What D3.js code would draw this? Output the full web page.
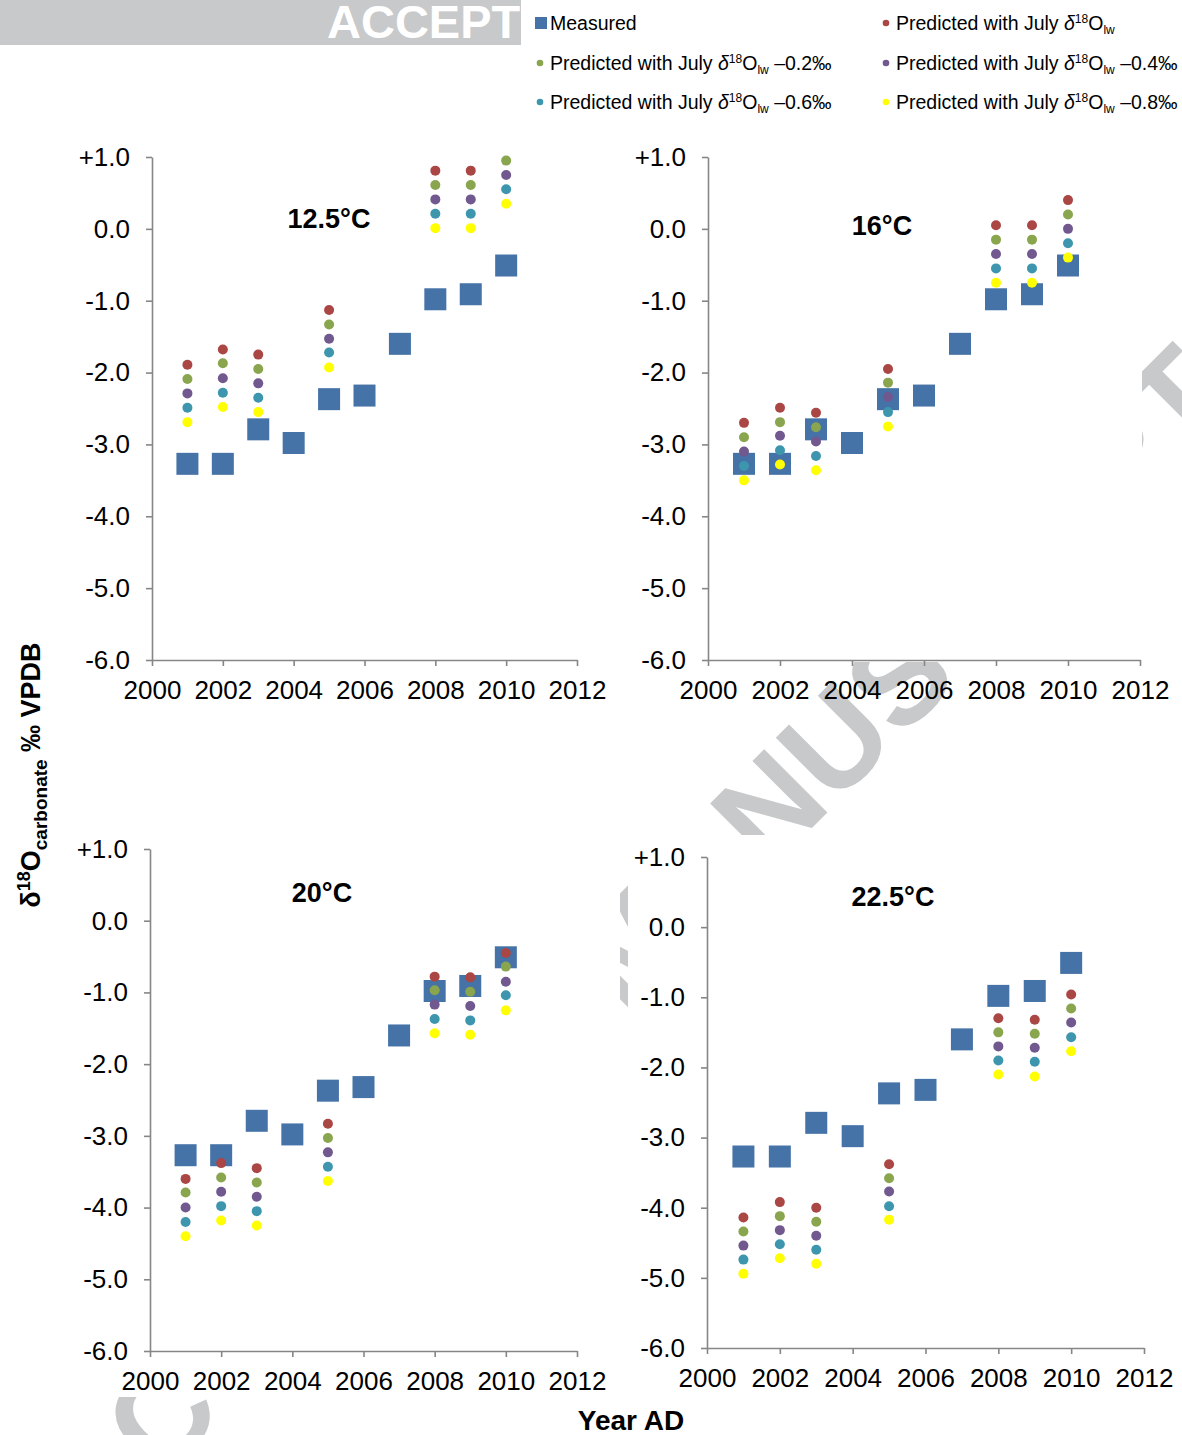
<!DOCTYPE html>
<html>
<head>
<meta charset="utf-8">
<script src="https://cdn.jsdelivr.net/npm/d3@7"></script>
<style>
  body { margin: 0; background: #fff; }
  svg { display: block; }
  text { font-family: "Liberation Sans", Arial, sans-serif; }
</style>
</head>
<body>
<svg id="chart" width="1182" height="1435"></svg>
<script>
// ---- data ----
const measuredYears = [2001, 2002, 2003, 2004, 2005, 2006, 2007, 2008, 2009, 2010];
const measured = [-3.27, -3.27, -2.79, -2.98, -2.37, -2.32, -1.60, -0.98, -0.91, -0.51];

const predYears = [2001, 2002, 2003, 2005, 2008, 2009, 2010];

// 12.5 °C
const t125_lw   = [-1.89, -1.68, -1.75, -1.13, 0.81, 0.81, null];
const t125_m02  = [-2.09, -1.87, -1.95, -1.33, 0.61, 0.61, 0.95];
const t125_m04  = [-2.29, -2.08, -2.15, -1.53, 0.41, 0.41, 0.75];
const t125_m06  = [-2.49, -2.28, -2.35, -1.72, 0.21, 0.21, 0.55];
const t125_m08  = [-2.69, -2.48, -2.55, -1.93, 0.01, 0.01, 0.35];
// 16 °C
const t16_lw    = [-2.70, -2.49, -2.56, -1.95, 0.05, 0.05, 0.40];
const t16_m02   = [-2.90, -2.69, -2.76, -2.14, -0.15, -0.15, 0.20];
const t16_m04   = [-3.10, -2.88, -2.96, -2.34, -0.35, -0.35, 0.00];
const t16_m06   = [-3.30, -3.08, -3.16, -2.55, -0.55, -0.55, -0.20];
const t16_m08   = [-3.50, -3.28, -3.36, -2.75, -0.75, -0.75, -0.40];
// 20 °C
const t20_lw    = [-3.60, -3.38, -3.45, -2.83, -0.78, -0.79, -0.45];
const t20_m02   = [-3.79, -3.58, -3.65, -3.03, -0.97, -0.99, -0.64];
const t20_m04   = [-4.00, -3.78, -3.85, -3.23, -1.17, -1.19, -0.85];
const t20_m06   = [-4.20, -3.98, -4.05, -3.43, -1.37, -1.39, -1.04];
const t20_m08   = [-4.40, -4.18, -4.25, -3.63, -1.57, -1.59, -1.25];
// 22.5 °C
const t225_lw   = [-4.14, -3.92, -4.00, -3.38, -1.30, -1.32, -0.96];
const t225_m02  = [-4.34, -4.12, -4.20, -3.58, -1.50, -1.52, -1.16];
const t225_m04  = [-4.54, -4.32, -4.40, -3.77, -1.70, -1.72, -1.36];
const t225_m06  = [-4.74, -4.52, -4.60, -3.98, -1.90, -1.92, -1.57];
const t225_m08  = [-4.94, -4.72, -4.80, -4.17, -2.10, -2.13, -1.77];

const panelTitles = ["12.5°C", "16°C", "20°C", "22.5°C"];
const panelSeries = [
  [t125_lw, t125_m02, t125_m04, t125_m06, t125_m08],
  [t16_lw, t16_m02, t16_m04, t16_m06, t16_m08],
  [t20_lw, t20_m02, t20_m04, t20_m06, t20_m08],
  [t225_lw, t225_m02, t225_m04, t225_m06, t225_m08]
];

const offsetLabels = ["", " \u20130.2\u2030", " \u20130.4\u2030", " \u20130.6\u2030", " \u20130.8\u2030"];
const xTicks = [2000, 2002, 2004, 2006, 2008, 2010, 2012];
const yTicks = [1, 0, -1, -2, -3, -4, -5, -6];

// ---- styles / layout ----
const measuredColor = "#4572A7";
const seriesColors = ["#AA4643", "#89A54E", "#71588F", "#3D96AE", "#FFFF00"];
const axisColor = "#868686";
const watermarkColor = "#c8c9cb";

const panelBoxes = [
  { x0: 152, x1: 577,  y0: 157, y1: 660,  tx: 329, ty: 228 },
  { x0: 708, x1: 1140, y0: 157, y1: 660,  tx: 882, ty: 235 },
  { x0: 150, x1: 577,  y0: 849, y1: 1351, tx: 322, ty: 902 },
  { x0: 707, x1: 1144, y0: 857, y1: 1348, tx: 893, ty: 906 }
];

const svg = d3.select("#chart");
const defs = svg.append("defs");

// ---- watermark (visible only in the gaps between the panels) ----
const wmClip = defs.append("clipPath").attr("id", "wm-clip");
[[1142, 120, 40, 715], [627, 662, 555, 173], [620, 835, 8, 600], [0, 1397, 625, 38]]
  .forEach(([x, y, w, h]) => wmClip.append("rect").attr("x", x).attr("y", y).attr("width", w).attr("height", h));

svg.append("g").attr("clip-path", "url(#wm-clip)")
  .append("text")
  .attr("transform", "translate(665,975) rotate(-45)")
  .attr("text-anchor", "middle")
  .attr("fill", watermarkColor)
  .style("font-weight", "bold")
  .style("font-size", "130px")
  .text("ACCEPTED MANUSCRIPT");

// banner at the top-left
svg.append("rect").attr("x", 0).attr("y", 0).attr("width", 521).attr("height", 45).attr("fill", watermarkColor);
svg.append("text").attr("x", 327).attr("y", 38).attr("fill", "#fff")
  .style("font-weight", "bold").style("font-size", "47px")
  .text("ACCEPT");

// ---- panels ----
const yFmt = v => (v > 0 ? "+" : "") + v.toFixed(1);

panelBoxes.forEach((box, i) => {
  const x = d3.scaleLinear().domain([2000, 2012]).range([box.x0, box.x1]);
  const y = d3.scaleLinear().domain([-6, 1]).range([box.y1, box.y0]);
  const g = svg.append("g");

  const yAxis = g.append("g").attr("transform", `translate(${box.x0},0)`)
    .call(d3.axisLeft(y).tickValues(yTicks).tickSize(6).tickSizeOuter(0).tickPadding(16).tickFormat(yFmt));
  const xAxis = g.append("g").attr("transform", `translate(0,${box.y1})`)
    .call(d3.axisBottom(x).tickValues(xTicks).tickSize(6).tickSizeOuter(0).tickPadding(15).tickFormat(d3.format("d")));

  [yAxis, xAxis].forEach(a => {
    a.attr("font-family", null).attr("font-size", null);
    a.selectAll("path.domain").attr("stroke", axisColor).attr("stroke-width", 1.6);
    a.selectAll(".tick line").attr("stroke", axisColor).attr("stroke-width", 1.6);
    a.selectAll(".tick text").attr("fill", "#000").style("font-size", "26px");
  });

  // measured squares
  const sq = 22;
  g.append("g").selectAll("rect")
    .data(measuredYears.map((yr, k) => ({ yr, v: measured[k] })))
    .join("rect")
    .attr("x", d => x(d.yr) - sq / 2)
    .attr("y", d => y(d.v) - sq / 2)
    .attr("width", sq).attr("height", sq)
    .attr("fill", measuredColor);

  // predicted dots
  panelSeries[i].forEach((vals, s) => {
    g.append("g").selectAll("circle")
      .data(predYears.map((yr, k) => ({ yr, v: vals[k] })).filter(d => d.v !== null))
      .join("circle")
      .attr("cx", d => x(d.yr))
      .attr("cy", d => y(d.v))
      .attr("r", 5)
      .attr("fill", seriesColors[s]);
  });

  g.append("text")
    .attr("x", box.tx).attr("y", box.ty)
    .attr("text-anchor", "middle")
    .style("font-weight", "bold").style("font-size", "27px")
    .text(panelTitles[i]);
});

// ---- axis titles ----
const yTitle = svg.append("text")
  .attr("transform", "translate(40,775) rotate(-90)")
  .attr("text-anchor", "middle")
  .style("font-weight", "bold").style("font-size", "27px");
yTitle.append("tspan").text("\u03B4");
yTitle.append("tspan").attr("dy", -10).style("font-size", "18px").text("18");
yTitle.append("tspan").attr("dy", 10).text("O");
yTitle.append("tspan").attr("dy", 7).style("font-size", "19px").text("carbonate");
yTitle.append("tspan").attr("dy", -7).text(" \u2030 VPDB");

svg.append("text")
  .attr("x", 631).attr("y", 1430)
  .attr("text-anchor", "middle")
  .style("font-weight", "bold").style("font-size", "28px")
  .text("Year AD");

// ---- legend ----
const legendPos = [
  { x: 886, y: 23 }, { x: 540, y: 63 }, { x: 886, y: 63 },
  { x: 540, y: 102 }, { x: 886, y: 102 }
];
const legend = svg.append("g").style("font-size", "19.5px");
legend.append("rect").attr("x", 535).attr("y", 17).attr("width", 12).attr("height", 12).attr("fill", measuredColor);
legend.append("text").attr("x", 550).attr("y", 30).text("Measured");

seriesColors.forEach((c, s) => {
  const p = legendPos[s];
  legend.append("circle").attr("cx", p.x).attr("cy", p.y).attr("r", 3.3).attr("fill", c);
  const t = legend.append("text").attr("x", p.x + 10).attr("y", p.y + 7);
  t.append("tspan").text("Predicted with July ");
  t.append("tspan").style("font-style", "italic").text("\u03B4");
  t.append("tspan").attr("dy", -7).style("font-size", "12px").text("18");
  t.append("tspan").attr("dy", 7).text("O");
  t.append("tspan").attr("dy", 4).style("font-size", "12px").text("lw");
  t.append("tspan").attr("dy", -4).text(offsetLabels[s]);
});
</script>
</body>
</html>
